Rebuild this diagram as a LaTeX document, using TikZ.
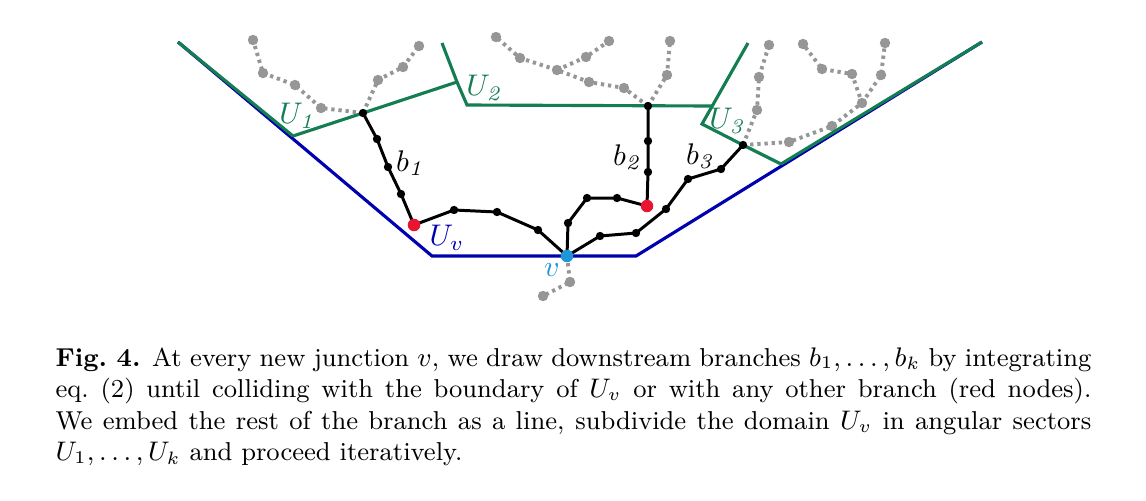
\documentclass[tikz,border=0pt]{standalone}
\usetikzlibrary{calc}
\definecolor{sgreen}{RGB}{20,125,82}
\definecolor{sblue}{RGB}{0,0,175}
\definecolor{scyan}{RGB}{30,150,215}
\definecolor{sred}{RGB}{232,20,50}
\definecolor{sgray}{RGB}{150,150,150}
\tikzset{
  graypath/.style={draw=sgray, line width=1.3pt, dash pattern=on 1.1pt off 1.3pt},
  blackpath/.style={draw=black, line width=1pt, line join=round},
  greenpath/.style={draw=sgreen, line width=1.05pt, line join=miter},
  bluepath/.style={draw=sblue, line width=1.05pt, line join=miter},
  bdot/.style={circle, fill=black, inner sep=0pt, minimum size=2.8pt},
  gdot/.style={circle, fill=sgray, inner sep=0pt, minimum size=3.5pt},
  rdot/.style={circle, fill=sred, inner sep=0pt, minimum size=4.2pt},
  cdot/.style={circle, fill=scyan, inner sep=0pt, minimum size=4.2pt},
  lab/.style={inner sep=0pt, font=\fontsize{10}{12}\selectfont},
}
\begin{document}
\begin{tikzpicture}[x=0.335pt,y=-0.335pt]
\useasboundingbox (0,0) rectangle (1146,500);
% junctions
\coordinate (v) at (567,256);
\coordinate (j1) at (363,113);
\coordinate (j2) at (648,106);
\coordinate (j3) at (743,145);
% boundary points
\coordinate (bl) at (178,42);
\coordinate (bbl) at (432,256);
\coordinate (bbr) at (636,256);
\coordinate (br) at (982,42);
\coordinate (g1) at (293,136);
\coordinate (g2) at (457,82);
\coordinate (g2t) at (442,43);
\coordinate (g2b) at (467,105);
\coordinate (g3m) at (712,106);
\coordinate (g3t) at (748,43);
\coordinate (g3b) at (702,124);
\coordinate (g4) at (781,164);
% gray tree points
\coordinate (a1) at (321,108); \coordinate (a2) at (295,85); \coordinate (a3) at (263,73); \coordinate (a4) at (253,40);
\coordinate (a5) at (378,80); \coordinate (a6) at (403,67); \coordinate (a7) at (419,46);
\coordinate (c1) at (624,88); \coordinate (c2) at (589,82); \coordinate (c3) at (557,70); \coordinate (c4) at (520,58); \coordinate (c5) at (496,37);
\coordinate (c6) at (586,57); \coordinate (c7) at (609,41);
\coordinate (c8) at (667,75); \coordinate (c9) at (670,41);
\coordinate (d1) at (757,110); \coordinate (d2) at (759,77); \coordinate (d3) at (769,45);
\coordinate (d4) at (789,142); \coordinate (d5) at (832,126); \coordinate (d6) at (862,103);
\coordinate (d7) at (852,74); \coordinate (d8) at (822,69); \coordinate (d9) at (803,44);
\coordinate (d10) at (881,75); \coordinate (d11) at (885,43);
\coordinate (e1) at (570,282); \coordinate (e2) at (543,296);
% black branch points
\coordinate (p1) at (377,139); \coordinate (p2) at (388,167); \coordinate (p3) at (401,194);
\coordinate (r1) at (414,225);
\coordinate (p4) at (454,210); \coordinate (p5) at (497,212); \coordinate (p6) at (538,230);
\coordinate (q1) at (568,223); \coordinate (q2) at (587,198); \coordinate (q3) at (617,198);
\coordinate (r2) at (647,206);
\coordinate (q4) at (648,172); \coordinate (q5) at (648,141);
\coordinate (s1) at (600,236); \coordinate (s2) at (636,233); \coordinate (s3) at (666,209);
\coordinate (s4) at (688,179); \coordinate (s5) at (721,169);

% gray dotted trees
\path[graypath] (j1) -- (a1) -- (a2) -- (a3) -- (a4);
\path[graypath] (j1) -- (a5) -- (a6) -- (a7);
\path[graypath] (j2) -- (c1) -- (c2) -- (c3) -- (c4) -- (c5);
\path[graypath] (c3) -- (c6) -- (c7);
\path[graypath] (j2) -- (c8) -- (c9);
\path[graypath] (j3) -- (d1) -- (d2) -- (d3);
\path[graypath] (j3) -- (d4) -- (d5) -- (d6) -- (d7) -- (d8) -- (d9);
\path[graypath] (d6) -- (d10) -- (d11);
\path[graypath] (v) -- (e1) -- (e2);
\foreach \p in {a1,a2,a3,a4,a5,a6,a7,c1,c2,c3,c4,c5,c6,c7,c8,c9,d1,d2,d3,d4,d5,d6,d7,d8,d9,d10,d11,e1,e2}
  \node[gdot] at (\p) {};

% blue domain boundary
\path[bluepath] (bl) -- (bbl) -- (bbr) -- (br);
% green sector boundaries
\path[greenpath, yshift=0.35pt] (bl) -- (g1);
\path[greenpath] (g1) -- (j1) -- (g2) -- (g2t);
\path[greenpath] (g2) -- (g2b) -- (g3m);
\path[greenpath] (g3t) -- (g3b) -- (j3) -- (g4);
\path[greenpath, yshift=0.35pt] (g4) -- (br);

% black branches
\path[blackpath] (j1) -- (p1) -- (p2) -- (p3) -- (r1) -- (p4) -- (p5) -- (p6) -- (v);
\path[blackpath] (v) -- (q1) -- (q2) -- (q3) -- (r2) -- (q4) -- (q5) -- (j2);
\path[blackpath] (v) -- (s1) -- (s2) -- (s3) -- (s4) -- (s5) -- (j3);
\foreach \p in {j1,j2,j3,p1,p2,p3,p4,p5,p6,q1,q2,q3,q4,q5,s1,s2,s3,s4,s5}
  \node[bdot] at (\p) {};
\node[rdot] (rn1) at (r1) {};
\node[rdot] (rn2) at (r2) {};
\node[cdot] (vn) at (v) {};

% labels
\node[lab, text=sgreen] (lU1) at (298,116) {$U_{\mathit{1}}$};
\node[lab, text=sgreen] (lU2) at (485,88) {$U_{\mathit{2}}$};
\node[lab, text=sgreen] (lU3) at (728,121) {$U_{\mathit{3}}$};
\node[lab] (lb1) at (411,163) {$b_{\mathit{1}}$};
\node[lab] (lb2) at (628,157) {$b_{\mathit{2}}$};
\node[lab] (lb3) at (701,156) {$b_{\mathit{3}}$};
\node[lab, text=sblue] (lUv) at (447,238) {$U_v$};
\node[lab, text=scyan] (lv) at (552,270) {$v$};

% caption
\node[anchor=base west, text width=347pt, align=justify, inner sep=0pt,
      font=\fontsize{8.67}{10.6}\selectfont] (cap) at (55,366)
{\textbf{Fig.~4.} At every new junction $v$, we draw downstream branches $b_1,\dots,b_k$ by integrating\linebreak
eq.~(2) until colliding with the boundary of $U_v$ or with any other branch (red nodes).\linebreak
We embed the rest of the branch as a line, subdivide the domain $U_v$ in angular sectors\linebreak
$U_1,\dots,U_k$ and proceed iteratively.};
\end{tikzpicture}
\end{document}
